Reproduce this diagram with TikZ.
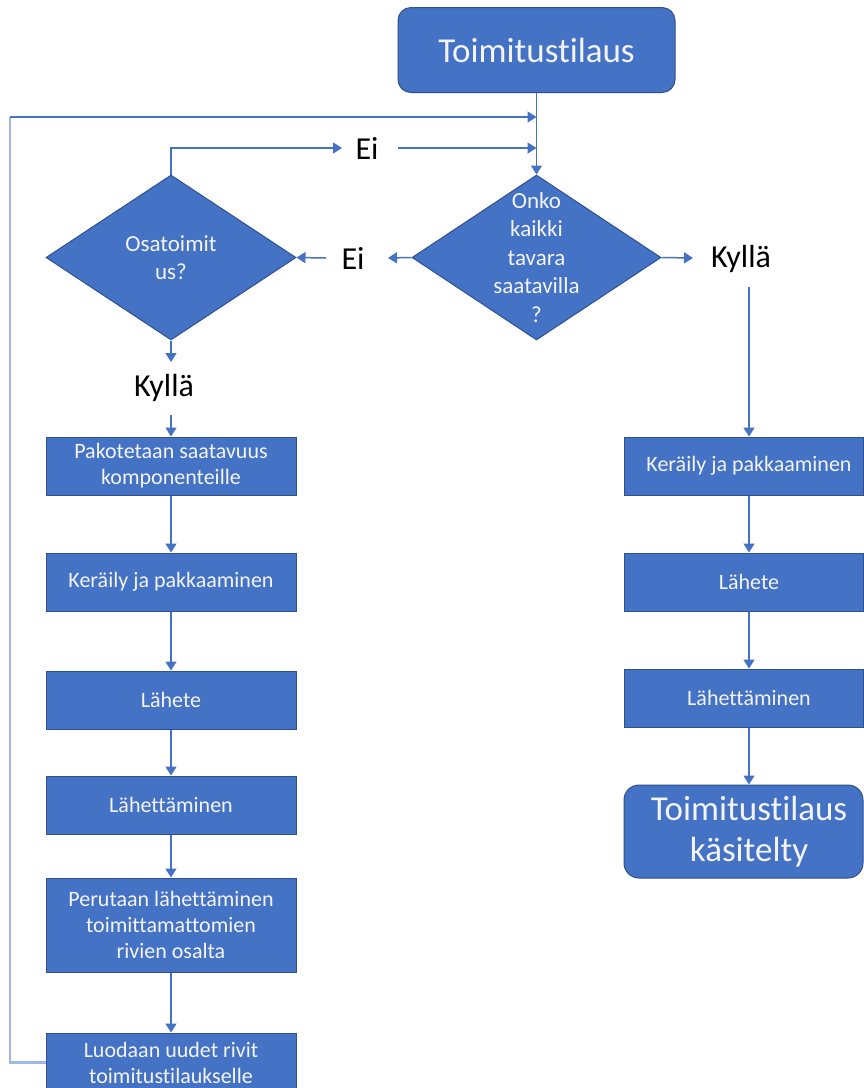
\documentclass[tikz,border=0pt]{standalone}
\usepackage{fontspec}
\setmainfont{Carlito}[Ligatures={NoCommon,NoRare,NoContextual}]
\usetikzlibrary{shapes.geometric,arrows.meta}
\definecolor{boxfill}{HTML}{4472C4}
\definecolor{boxedge}{HTML}{2F528F}
\definecolor{flow}{HTML}{4472C4}
\definecolor{loopline}{HTML}{9DB8E6}
\definecolor{boxtext}{HTML}{F4F4F4}
\begin{document}
\begin{tikzpicture}[x=1pt,y=-1pt,
  stepbox/.style={rectangle, draw=boxedge, line width=1pt, fill=boxfill,
    text=boxtext, inner sep=0pt, minimum width=250pt, minimum height=58pt,
    align=center, font=\fontsize{22}{26}\selectfont},
  rightbox/.style={stepbox, minimum width=239pt},
  termbox/.style={rectangle, rounded corners=13pt, draw=boxedge, line width=1pt,
    fill=boxfill, text=boxtext, inner sep=0pt, align=center,
    font=\fontsize{35}{41}\selectfont},
  decision/.style={diamond, draw=boxedge, line width=1pt, fill=boxfill,
    inner sep=0pt, minimum width=250pt, minimum height=165pt},
  decisiontext/.style={text=boxtext, inner sep=0pt, align=center,
    font=\fontsize{23}{28.5}\selectfont},
  answer/.style={inner sep=0pt, text=black, font=\fontsize{32}{36}\selectfont},
  flowline/.style={draw=flow, line width=1.5pt, -{Triangle[width=11pt,length=9pt]}},
  loopback/.style={draw=loopline, line width=2.4pt}
]
\clip (0,0) rectangle (864,1088);
\fill[white] (0,0) rectangle (864,1088);

% start and first decision
\node[termbox, minimum width=277pt, minimum height=85pt] (start) at (536.5,50) {Toimitustilaus};
\node[decision, minimum width=249pt] (main) at (536.5,257.5) {};
\node[decisiontext] (mainq) at (main.center) {Onko\\kaikki\\tavara\\saatavilla\\?};
\node[decision] (osa) at (171,257.5) {};
\node[decisiontext] (osaq) at (osa.center) {Osatoimit\\us?};

% answer labels
\node[answer] (eiT) at (367,148) {Ei};
\node[answer] (eiL) at (353,258) {Ei};
\node[answer] (kyR) at (741,259) {Kyllä};
\node[answer] (kyL) at (164,388) {Kyllä};

% left column: partial delivery
\node[stepbox] (lp) at (171,466) {Pakotetaan saatavuus\\komponenteille};
\node[stepbox] (lk) at (171,582) {Keräily ja pakkaaminen};
\node[stepbox] (ll) at (171,700) {Lähete};
\node[stepbox] (lt) at (171,805) {Lähettäminen};
\node[stepbox, minimum height=94pt] (lpe) at (171,925) {Perutaan lähettäminen\\toimittamattomien\\rivien osalta};
\node[stepbox, minimum height=59pt] (luo) at (171,1062.5) {Luodaan uudet rivit\\toimitustilaukselle};

% right column: full delivery
\node[rightbox] (rk) at (743.5,466) {\hspace*{11pt}Keräily ja pakkaaminen};
\node[rightbox] (rl) at (743.5,582) {\hspace*{11pt}Lähete};
\node[rightbox] (rt) at (743.5,698) {\hspace*{11pt}Lähettäminen};
\node[termbox, rounded corners=15pt, minimum width=239pt, minimum height=93pt] (rend) at (743.5,831.5)
  {\hspace*{11pt}Toimitustilaus\\\hspace*{11pt}käsitelty};

% free ends of the labelled connectors
\coordinate (eiTa) at (342,148);
\coordinate (eiTb) at (398,148);
\coordinate (eiTc) at (536.5,148);
\coordinate (eiLa) at (388,258);
\coordinate (eiLb) at (326,258);
\coordinate (kyRa) at (693,258);
\coordinate (kyRb) at (749,287);
\coordinate (kyLa) at (171,362);
\coordinate (kyLb) at (171,415);
\coordinate (loopx) at (10,117);
\coordinate (loopend) at (536.5,117);

% loop back to the start
\draw[loopback] (luo.west) -- (luo.west -| loopx) -- (loopx);
\draw[flowline] (loopx) -- (loopend);

% main flow
\draw[flowline] (start.south) -- (main.north);
\draw[flowline] (osa.north) |- (eiTa);
\draw[flowline] (eiTb) -- (eiTc);
\draw[flowline] (main.west) -- (eiLa);
\draw[flowline] (eiLb) -- (osa.east);
\draw[flowline] (main.east) -- (kyRa);
\draw[flowline] (kyRb) -- ([xshift=5.5pt]rk.north);
\draw[flowline] (osa.south) -- (kyLa);
\draw[flowline] (kyLb) -- (lp.north);

\draw[flowline] (lp) -- (lk);
\draw[flowline] (lk) -- (ll);
\draw[flowline] (ll) -- (lt);
\draw[flowline] (lt) -- (lpe);
\draw[flowline] (lpe) -- (luo);

\draw[flowline] ([xshift=5.5pt]rk.south) -- ([xshift=5.5pt]rl.north);
\draw[flowline] ([xshift=5.5pt]rl.south) -- ([xshift=5.5pt]rt.north);
\draw[flowline] ([xshift=5.5pt]rt.south) -- ([xshift=5.5pt]rend.north);
\end{tikzpicture}
\end{document}
